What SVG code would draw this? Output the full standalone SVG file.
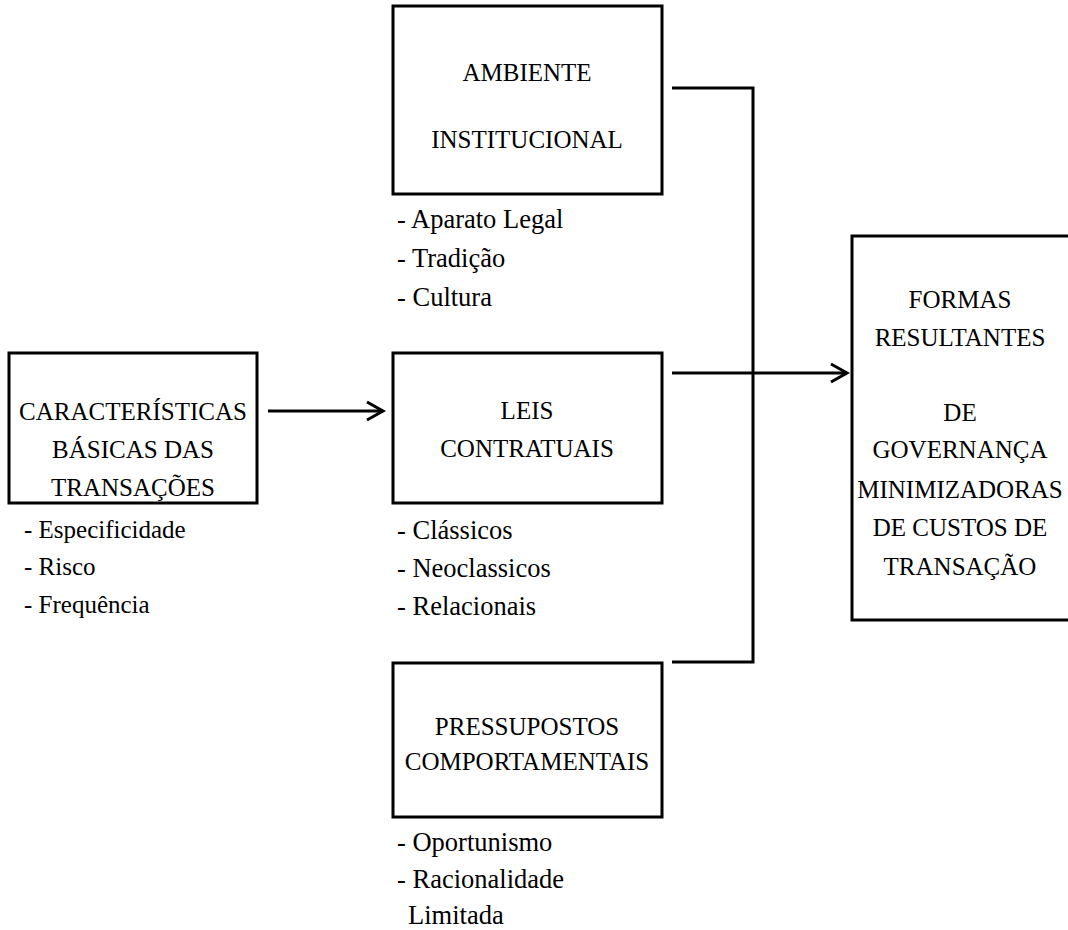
<svg xmlns="http://www.w3.org/2000/svg" width="1068" height="930" viewBox="0 0 1068 930">
<style>
.box{fill:#fff;stroke:#000;stroke-width:3}
.t{font-family:"Liberation Serif","Times New Roman",serif;font-size:25px;fill:#000}
.l{font-size:26.5px}
.c{text-anchor:middle}
.ln{fill:none;stroke:#000;stroke-width:3}
</style>
<rect width="1068" height="930" fill="#fff"/>
<g id="connectors">
<polyline class="ln" points="672,88 753,88 753,662 672,662"/>
<line class="ln" x1="268" y1="411" x2="383" y2="411"/>
<polyline class="ln" points="367,402 383,411 367,420"/>
<line class="ln" x1="672" y1="373" x2="847" y2="373"/>
<polyline class="ln" points="831,364 847,373 831,382"/>
</g>
<g id="ambiente">
<rect class="box" x="393" y="6" width="269" height="188"/>
<text class="t c" x="527" y="81">AMBIENTE</text>
<text class="t c" x="527" y="148">INSTITUCIONAL</text>
<text class="t l" x="397" y="228">- Aparato Legal</text>
<text class="t l" x="397" y="267">- Tradição</text>
<text class="t l" x="397" y="306">- Cultura</text>
</g>
<g id="caracteristicas">
<rect class="box" x="9" y="353" width="248" height="150"/>
<text class="t c" x="133" y="420">CARACTERÍSTICAS</text>
<text class="t c" x="133" y="458">BÁSICAS DAS</text>
<text class="t c" x="133" y="496">TRANSAÇÕES</text>
<text class="t" x="24" y="538">- Especificidade</text>
<text class="t" x="24" y="575">- Risco</text>
<text class="t" x="24" y="613">- Frequência</text>
</g>
<g id="leis">
<rect class="box" x="393" y="353" width="269" height="150"/>
<text class="t c" x="527" y="419">LEIS</text>
<text class="t c" x="527" y="457">CONTRATUAIS</text>
<text class="t l" x="397" y="539">- Clássicos</text>
<text class="t l" x="397" y="577">- Neoclassicos</text>
<text class="t l" x="397" y="615">- Relacionais</text>
</g>
<g id="pressupostos">
<rect class="box" x="393" y="663" width="269" height="154"/>
<text class="t c" x="527" y="735">PRESSUPOSTOS</text>
<text class="t c" x="527" y="770">COMPORTAMENTAIS</text>
<text class="t l" x="397" y="851">- Oportunismo</text>
<text class="t l" x="397" y="888">- Racionalidade</text>
<text class="t l" x="408" y="924">Limitada</text>
</g>
<g id="formas">
<rect class="box" x="852" y="236" width="218" height="384"/>
<text class="t c" x="960" y="308">FORMAS</text>
<text class="t c" x="960" y="346">RESULTANTES</text>
<text class="t c" x="960" y="421">DE</text>
<text class="t c" x="960" y="458">GOVERNANÇA</text>
<text class="t c" x="960" y="498">MINIMIZADORAS</text>
<text class="t c" x="960" y="536">DE CUSTOS DE</text>
<text class="t c" x="960" y="575">TRANSAÇÃO</text>
</g>
</svg>
